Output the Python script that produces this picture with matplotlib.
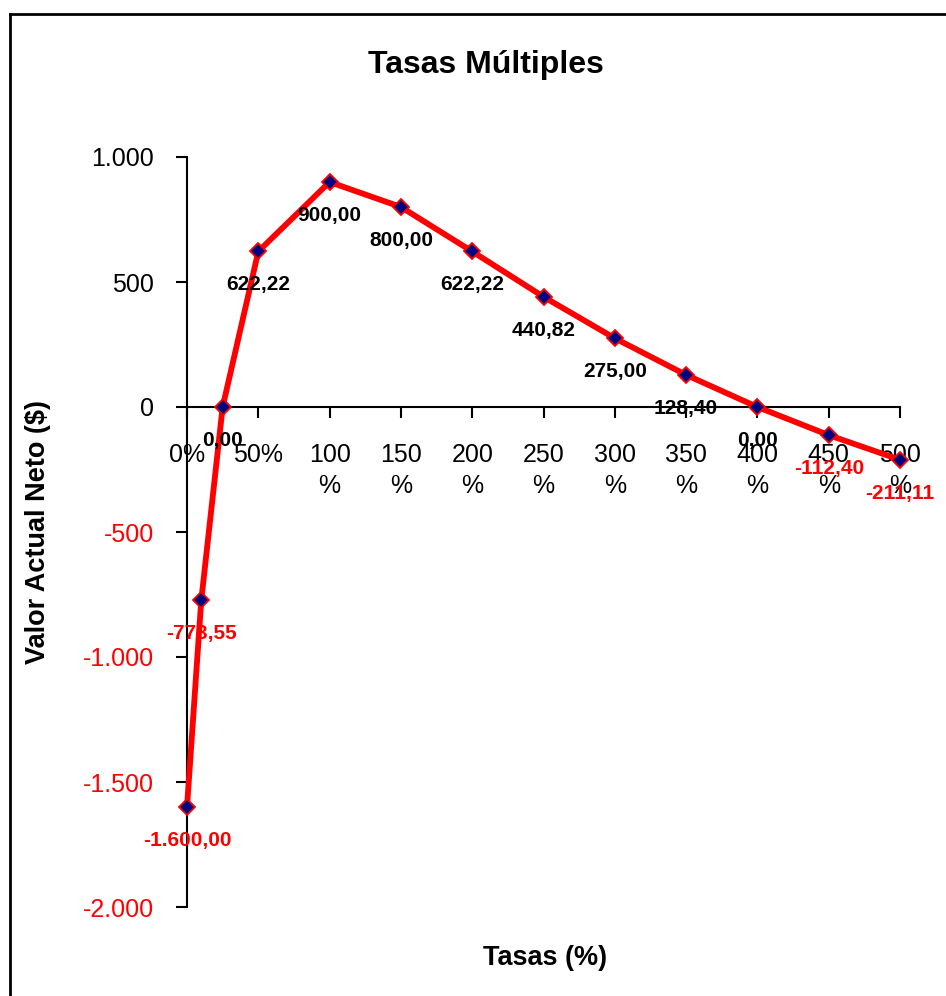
import matplotlib
matplotlib.use("Agg")
import matplotlib.pyplot as plt
from matplotlib.lines import Line2D
from matplotlib.ticker import FixedLocator

plt.rcParams['font.family'] = ['Liberation Sans', 'DejaVu Sans']

# Data
tasas = [0, 10, 25, 50, 100, 150, 200, 250, 300, 350, 400, 450, 500]
van = [-1600.00, -773.55, 0.00, 622.22, 900.00, 800.00, 622.22, 440.82,
       275.00, 128.40, 0.00, -112.40, -211.11]
x_ticks = [0, 50, 100, 150, 200, 250, 300, 350, 400, 450, 500]
x_tick_labels = ["0%", "50%", "100\n%", "150\n%", "200\n%", "250\n%", "300\n%",
                 "350\n%", "400\n%", "450\n%", "500\n%"]
y_ticks = [1000, 500, 0, -500, -1000, -1500, -2000]
y_tick_labels = ["1.000", "500", "0", "-500", "-1.000", "-1.500", "-2.000"]

W, H = 946, 996
fig = plt.figure(figsize=(W / 100, H / 100), dpi=100)
ax = fig.add_axes([187 / W, 1 - 907 / H, (900 - 187) / W, (907 - 157) / H])
ax.set_xlim(0, 500)
ax.set_ylim(-2000, 1000)

ax.plot(tasas, van, color='#ff0000', lw=4.2, marker='D', markersize=8,
        markerfacecolor='#000080', markeredgecolor='#ff0000', markeredgewidth=1.3,
        zorder=3, clip_on=False)

for x, y in zip(tasas, van):
    lbl = f"{y:,.2f}".replace(",", "X").replace(".", ",").replace("X", ".")
    ax.annotate(lbl, (x, y), xytext=(0, -24), textcoords='offset points',
                ha='center', va='center', fontsize=15, fontweight='bold',
                color='#ff0000' if y < 0 else 'black', zorder=4,
                annotation_clip=False)

for s in ['top', 'right']:
    ax.spines[s].set_visible(False)
ax.spines['bottom'].set_position(('data', 0))
ax.spines['left'].set_linewidth(1.5)
ax.spines['bottom'].set_linewidth(1.5)

ax.xaxis.set_major_locator(FixedLocator(x_ticks))
ax.set_xticklabels(x_tick_labels, linespacing=1.35)
ax.yaxis.set_major_locator(FixedLocator(y_ticks))
ax.set_yticklabels(y_tick_labels)
ax.tick_params(axis='x', direction='out', length=8, width=1.5, pad=18, labelsize=18)
ax.tick_params(axis='y', direction='out', length=8, width=1.5, pad=16, labelsize=18)
for t, v in zip(ax.get_yticklabels(), y_ticks):
    t.set_color('#ff0000' if v < 0 else 'black')

fig.text(486 / W, 1 - 65 / H, "Tasas Múltiples", ha='center', va='center',
         fontsize=23, fontweight='bold')
fig.text(545 / W, 1 - 958 / H, "Tasas (%)", ha='center', va='center',
         fontsize=19.5, fontweight='bold')
fig.text(38 / W, 1 - 532 / H, "Valor Actual Neto ($)", ha='center', va='center',
         rotation=90, fontsize=19.5, fontweight='bold')

# chart-area border
fig.add_artist(Line2D([9.5 / W, 9.5 / W], [0, 1 - 14 / H], transform=fig.transFigure,
                      color='black', lw=2))
fig.add_artist(Line2D([9.5 / W, 1], [1 - 14 / H, 1 - 14 / H], transform=fig.transFigure,
                      color='black', lw=2))

fig.savefig("out.png", dpi=100)
